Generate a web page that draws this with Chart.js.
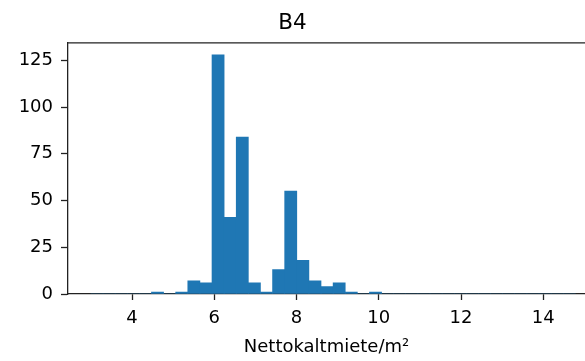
<!DOCTYPE html>
<html>
<head>
<meta charset="utf-8">
<script src="https://cdn.jsdelivr.net/npm/chart.js@4.4.1/dist/chart.umd.min.js"></script>
<style>
    html, body { margin: 0; padding: 0; background: #fff; overflow: hidden; }
    #wrap { width: 585px; height: 361px; }
</style>
</head>
<body>
<div id="wrap"><canvas id="histChart" width="585" height="361"></canvas></div>
<script>
// histogram of rents in B4: 40 bins of equal width
const binStart = 3.0;
const binWidth = 0.2945;
const counts = [
    0, 0, 0, 0, 0, 1, 0, 1, 7, 6,
    128, 41, 84, 6, 1, 13, 55, 18, 7, 4,
    6, 1, 0, 1, 0, 0, 0, 0, 0, 0,
    0, 0, 0, 0, 0, 0, 0, 0, 0, 0
];
const xTicks = [4, 6, 8, 10, 12, 14];
const yTicks = [0, 25, 50, 75, 100, 125];

const barColor = '#1f77b4';
const axisColor = '#222';
const fontFamily = '"DejaVu Sans", sans-serif';

const points = counts.map((c, i) => ({x: binStart + (i + 0.5) * binWidth, y: c}));

// top spine, matplotlib style
const topSpine = {
    id: 'topSpine',
    afterDraw(chart) {
        const {ctx, chartArea} = chart;
        ctx.save();
        ctx.strokeStyle = axisColor;
        ctx.lineWidth = 1.3;
        ctx.beginPath();
        ctx.moveTo(chartArea.left, chartArea.top);
        ctx.lineTo(chartArea.right, chartArea.top);
        ctx.stroke();
        ctx.restore();
    }
};

new Chart(document.getElementById('histChart'), {
    type: 'bar',
    data: {
        datasets: [{
            data: points,
            backgroundColor: barColor,
            borderWidth: 0,
            barPercentage: 1.0,
            categoryPercentage: 1.0
        }]
    },
    options: {
        responsive: false,
        animation: false,
        layout: {padding: 0},
        plugins: {
            legend: {display: false},
            tooltip: {enabled: false},
            title: {
                display: true,
                text: 'B4',
                color: '#000',
                font: {family: fontFamily, size: 21.5, weight: 'normal', lineHeight: 1.2},
                padding: {top: 11, bottom: 6}
            }
        },
        scales: {
            x: {
                type: 'linear',
                offset: false,
                min: 2.443,
                max: 15.015,
                afterFit: (s) => { s.height = 67; },
                afterBuildTicks: (s) => { s.ticks = xTicks.map(v => ({value: v})); },
                grid: {offset: false, drawOnChartArea: false, drawTicks: true, tickLength: 6, tickColor: axisColor, tickWidth: 1.3},
                border: {display: true, color: axisColor, width: 1.3},
                ticks: {color: '#000', padding: 8, font: {family: fontFamily, size: 18}, maxRotation: 0},
                title: {
                    display: true,
                    text: 'Nettokaltmiete/m²',
                    color: '#000',
                    font: {family: fontFamily, size: 18, lineHeight: 1.2},
                    padding: {top: 0, bottom: 3}
                }
            },
            y: {
                min: 0,
                max: 134.4,
                afterFit: (s) => { s.width = 68; },
                afterBuildTicks: (s) => { s.ticks = yTicks.map(v => ({value: v})); },
                grid: {drawOnChartArea: false, drawTicks: true, tickLength: 7, tickColor: axisColor, tickWidth: 1.3},
                border: {display: true, color: axisColor, width: 1.3},
                ticks: {color: '#000', padding: 8, font: {family: fontFamily, size: 18}}
            }
        }
    },
    plugins: [topSpine]
});
</script>
</body>
</html>
